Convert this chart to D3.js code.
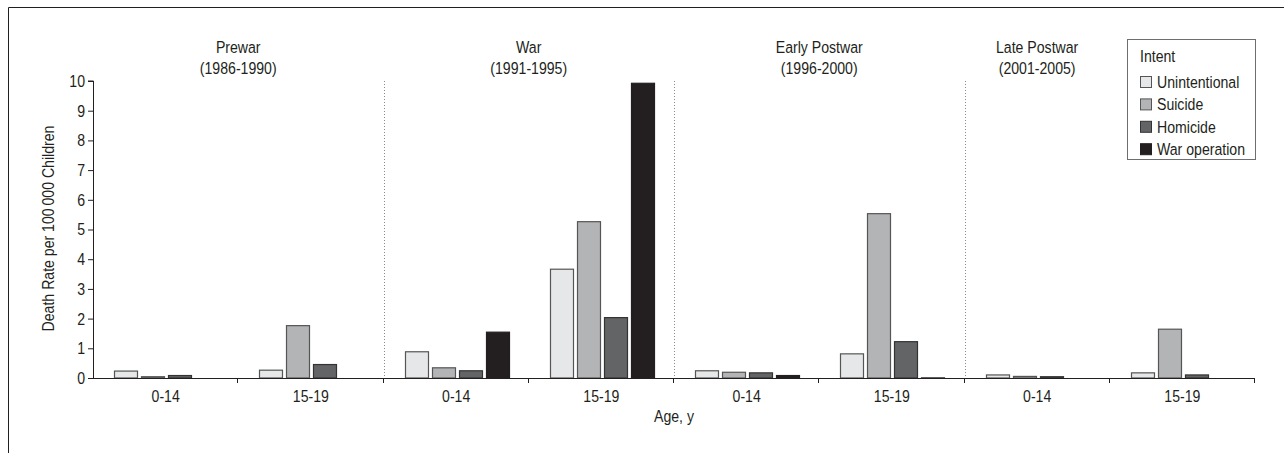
<!DOCTYPE html>
<html>
<head>
<meta charset="utf-8">
<script src="https://cdn.jsdelivr.net/npm/d3@7"></script>
<style>
  body { margin: 0; background: #fff; }
  svg text { font-family: "Liberation Sans Narrow", "Arial Narrow", "Liberation Sans", Arial, sans-serif; fill: #231f20; }
  /* the original uses a condensed face, squeeze the regular one */
  svg text.cm { transform-box: fill-box; transform-origin: center; transform: scaleX(0.83); }
  svg text.cs { transform-box: fill-box; transform-origin: left; transform: scaleX(0.83); }
  svg text.ce { transform-box: fill-box; transform-origin: right; transform: scaleX(0.83); }
</style>
</head>
<body>
<div id="chart"></div>
<script>
let width = 1284;
let height = 453;
let margin = ({top: 81, right: 29, bottom: 75, left: 93});

// data
let periods = ["Prewar", "War", "Early Postwar", "Late Postwar"];
let periodYears = ["(1986-1990)", "(1991-1995)", "(1996-2000)", "(2001-2005)"];
let ages = ["0-14", "15-19"];
let intents = ["Unintentional", "Suicide", "Homicide", "War operation"];
let intentColors = ["#e6e7e8", "#b3b4b6", "#636466", "#231f20"];
let intentStrokes = ["#555555", "#555555", "#333333", "#231f20"];
let yTicks = [0, 1, 2, 3, 4, 5, 6, 7, 8, 9, 10];

// one value per (period, age) group, in order
let unintentional = [0.25, 0.28, 0.90, 3.68, 0.26, 0.83, 0.12, 0.19];
let suicide       = [0.06, 1.78, 0.36, 5.28, 0.21, 5.55, 0.07, 1.66];
let homicide      = [0.10, 0.47, 0.26, 2.05, 0.19, 1.24, 0.06, 0.12];
let warOperation  = [0.00, 0.00, 1.56, 9.94, 0.10, 0.02, 0.01, 0.00];

let series = [unintentional, suicide, homicide, warOperation];

let groups = [];
periods.forEach(function(p, i) {
  ages.forEach(function(a, j) { groups.push(p + "|" + a); });
});

let svg = d3.select("#chart")
  .append("svg")
  .attr("width", width)
  .attr("height", height);

// outer frame (top + left only visible)
svg.append("path")
  .attr("d", "M8.5," + height + " V7.5 H" + width)
  .attr("fill", "none")
  .attr("stroke", "#231f20")
  .attr("stroke-width", 1);

let plotW = width - margin.left - margin.right;
let plotH = height - margin.top - margin.bottom;

let g = svg.append("g")
  .attr("transform", "translate(" + margin.left + "," + margin.top + ")");

let x0 = d3.scaleBand().domain(groups).range([0, plotW]).padding(0);
let x1 = d3.scaleBand().domain(intents)
  .range([21, x0.bandwidth() - 19]).paddingInner(0.11);
let y = d3.scaleLinear().domain([0, 10]).range([plotH, 0]);

////////////////////////////////
//   Period separators
////////////////////////////////
let sep = g.append("g");
for (let i = 1; i < periods.length; i++) {
  let xs = Math.round(x0(groups[i * 2])) + 0.5;
  sep.append("line")
    .attr("x1", xs).attr("x2", xs)
    .attr("y1", y(10)).attr("y2", plotH)
    .attr("stroke", "#8a8a8a")
    .attr("stroke-width", 1)
    .attr("stroke-dasharray", "1,2");
}

////////////////////////////////
//   Bars
////////////////////////////////
series.forEach(function(vals, k) {
  g.append("g")
    .selectAll("rect")
    .data(vals)
    .enter()
    .append("rect")
      .attr("x", function(d, i) { return Math.round(x0(groups[i]) + x1(intents[k])) + 0.5; })
      .attr("y", function(d) { return y(d) + 0.5; })
      .attr("width", Math.round(x1.bandwidth()) - 1)
      .attr("height", function(d) { return Math.max(0, plotH - y(d) - 0.5); })
      .attr("fill", intentColors[k])
      .attr("stroke", function(d) { return d > 0 ? intentStrokes[k] : "none"; })
      .attr("stroke-width", 1.2);
});

////////////////////////////////
//   Axes
////////////////////////////////
let yAxis = g.append("g")
  .call(d3.axisLeft(y).tickValues(yTicks).tickSize(5).tickPadding(3));
yAxis.select(".domain").attr("stroke", "#231f20").attr("d", "M-5," + y(10) + "H0.5V" + plotH);
yAxis.selectAll(".tick line").attr("stroke", "#231f20");
yAxis.selectAll("text").attr("class", "ce").attr("font-size", "17px").style("fill", "#231f20");

// x axis: ticks at group boundaries, labels at group centres
let xAxis = g.append("g").attr("transform", "translate(0," + plotH + ")");
xAxis.append("line")
  .attr("x1", 0).attr("x2", plotW)
  .attr("y1", 0.5).attr("y2", 0.5)
  .attr("stroke", "#231f20");
let bounds = groups.map(function(d) { return x0(d) + x0.bandwidth(); });
xAxis.selectAll(".bt")
  .data(bounds)
  .enter()
  .append("line")
    .attr("class", "bt")
    .attr("x1", function(d) { return Math.round(d) - 0.5; })
    .attr("x2", function(d) { return Math.round(d) - 0.5; })
    .attr("y1", 0).attr("y2", 5)
    .attr("stroke", "#231f20");
xAxis.selectAll(".lbl")
  .data(groups)
  .enter()
  .append("text")
    .attr("class", "cm")
    .attr("x", function(d) { return x0(d) + x0.bandwidth() / 2; })
    .attr("y", 24)
    .attr("text-anchor", "middle")
    .attr("font-size", "17px")
    .text(function(d) { return d.split("|")[1]; });

////////////////////////////////
//   Period titles
////////////////////////////////
periods.forEach(function(p, i) {
  let cx = x0(groups[i * 2]) + x0.bandwidth();
  // last title is pushed left of the legend
  if (i == periods.length - 1) { cx = x0(groups[i * 2]) + x0.bandwidth() / 2; }
  svg.append("text")
    .attr("class", "cm")
    .attr("x", margin.left + cx)
    .attr("y", 53)
    .attr("text-anchor", "middle")
    .attr("font-size", "17px")
    .text(p);
  svg.append("text")
    .attr("class", "cm")
    .attr("x", margin.left + cx)
    .attr("y", 74)
    .attr("text-anchor", "middle")
    .attr("font-size", "17px")
    .text(periodYears[i]);
});

////////////////////////////////
//   Axis titles
////////////////////////////////
svg.append("text")
  .attr("class", "cm")
  .attr("x", margin.left + plotW / 2)
  .attr("y", 422)
  .attr("text-anchor", "middle")
  .attr("font-size", "17px")
  .text("Age, y");

svg.append("text")
  .attr("transform", "translate(54," + (margin.top + plotH / 2 - 1) + ") rotate(-90) scale(0.83,1)")
  .attr("text-anchor", "middle")
  .attr("font-size", "17px")
  .text("Death Rate per 100\u2009000 Children");

////////////////////////////////
//   Legend
////////////////////////////////
let lg = svg.append("g").attr("transform", "translate(1127,39)");
lg.append("rect")
  .attr("x", 0.5).attr("y", 0.5)
  .attr("width", 128).attr("height", 120)
  .attr("fill", "#fff")
  .attr("stroke", "#6d6e70");
lg.append("text")
  .attr("class", "cs")
  .attr("x", 13).attr("y", 23)
  .attr("font-size", "17px")
  .text("Intent");
intents.forEach(function(name, k) {
  let row = lg.append("g").attr("transform", "translate(13," + (43 + k * 22.4) + ")");
  row.append("rect")
    .attr("x", 0.5).attr("y", -5.5)
    .attr("width", 11).attr("height", 11)
    .attr("fill", intentColors[k])
    .attr("stroke", intentStrokes[k]);
  row.append("text")
    .attr("class", "cs")
    .attr("x", 17).attr("y", 6)
    .attr("font-size", "17px")
    .text(name);
});
</script>
</body>
</html>
